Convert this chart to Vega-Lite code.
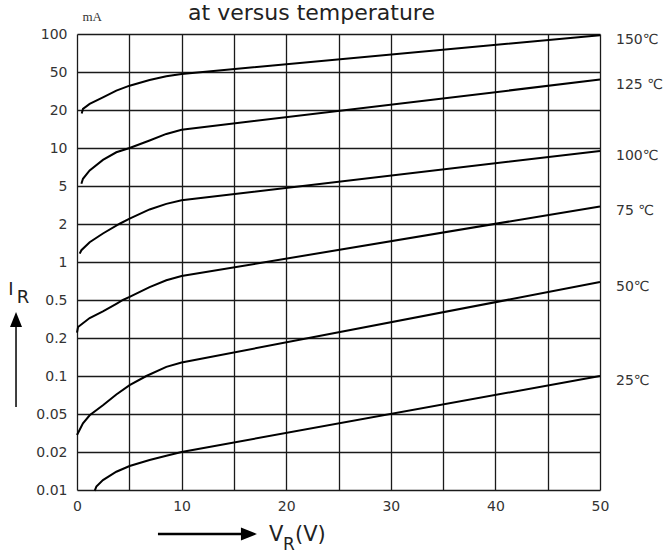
{
  "$schema": "https://vega.github.io/schema/vega-lite/v6.json",
  "autosize": {"type": "none"},
  "padding": {"left": 77, "top": 34, "right": 66, "bottom": 64},
  "width": 523,
  "height": 456,
  "background": "white",
  "title": {"text": "at versus temperature", "font": "DejaVu Sans", "fontSize": 22, "fontWeight": "normal", "color": "#222", "dx": -27, "offset": -15},
  "config": {
    "view": {"stroke": null},
    "axis": {"gridColor": "#1a1a1a", "gridWidth": 1.3, "gridOpacity": 1, "ticks": false, "domain": false, "labelFont": "DejaVu Sans", "labelFontSize": 14, "labelColor": "#333", "labelFlush": false, "labelOverlap": false},
    "text": {"font": "DejaVu Sans", "color": "#222"}
  },
  "datasets": {
    "curves": [
      {"temp": "150℃", "v": 0.45, "i": 19.1},
      {"temp": "150℃", "v": 0.57, "i": 20.9},
      {"temp": "150℃", "v": 1.21, "i": 24.8},
      {"temp": "150℃", "v": 2.48, "i": 30.0},
      {"temp": "150℃", "v": 3.76, "i": 35.3},
      {"temp": "150℃", "v": 5.03, "i": 39.2},
      {"temp": "150℃", "v": 6.94, "i": 43.7},
      {"temp": "150℃", "v": 8.54, "i": 46.6},
      {"temp": "150℃", "v": 10, "i": 48.5},
      {"temp": "150℃", "v": 50, "i": 98.5},
      {"temp": "125 ℃", "v": 0.42, "i": 5.29},
      {"temp": "125 ℃", "v": 0.57, "i": 5.95},
      {"temp": "125 ℃", "v": 1.21, "i": 7.04},
      {"temp": "125 ℃", "v": 2.48, "i": 8.44},
      {"temp": "125 ℃", "v": 3.76, "i": 9.44},
      {"temp": "125 ℃", "v": 5.03, "i": 10.0},
      {"temp": "125 ℃", "v": 6.94, "i": 11.96},
      {"temp": "125 ℃", "v": 8.54, "i": 13.7},
      {"temp": "125 ℃", "v": 10, "i": 14.8},
      {"temp": "125 ℃", "v": 50, "i": 44},
      {"temp": "100℃", "v": 0.26, "i": 1.22},
      {"temp": "100℃", "v": 0.42, "i": 1.31},
      {"temp": "100℃", "v": 1.21, "i": 1.52},
      {"temp": "100℃", "v": 2.48, "i": 1.75},
      {"temp": "100℃", "v": 4.08, "i": 2.02},
      {"temp": "100℃", "v": 5.03, "i": 2.42},
      {"temp": "100℃", "v": 6.94, "i": 3.15},
      {"temp": "100℃", "v": 8.54, "i": 3.59},
      {"temp": "100℃", "v": 10, "i": 3.88},
      {"temp": "100℃", "v": 50, "i": 9.6},
      {"temp": "75 ℃", "v": 0, "i": 0.242},
      {"temp": "75 ℃", "v": 0.1, "i": 0.287},
      {"temp": "75 ℃", "v": 1.21, "i": 0.358},
      {"temp": "75 ℃", "v": 2.48, "i": 0.41},
      {"temp": "75 ℃", "v": 3.76, "i": 0.47},
      {"temp": "75 ℃", "v": 4.39, "i": 0.5},
      {"temp": "75 ℃", "v": 5.03, "i": 0.54},
      {"temp": "75 ℃", "v": 6.94, "i": 0.67},
      {"temp": "75 ℃", "v": 8.54, "i": 0.76},
      {"temp": "75 ℃", "v": 10, "i": 0.815},
      {"temp": "75 ℃", "v": 50, "i": 3.39},
      {"temp": "50℃", "v": 0, "i": 0.0334},
      {"temp": "50℃", "v": 0.57, "i": 0.0426},
      {"temp": "50℃", "v": 1.21, "i": 0.049},
      {"temp": "50℃", "v": 2.48, "i": 0.0615},
      {"temp": "50℃", "v": 3.76, "i": 0.0757},
      {"temp": "50℃", "v": 5.03, "i": 0.088},
      {"temp": "50℃", "v": 6.63, "i": 0.1},
      {"temp": "50℃", "v": 8.54, "i": 0.124},
      {"temp": "50℃", "v": 10, "i": 0.1355},
      {"temp": "50℃", "v": 50, "i": 0.736},
      {"temp": "25℃", "v": 1.69, "i": 0.0098},
      {"temp": "25℃", "v": 1.85, "i": 0.0109},
      {"temp": "25℃", "v": 2.48, "i": 0.0126},
      {"temp": "25℃", "v": 3.76, "i": 0.0148},
      {"temp": "25℃", "v": 5.03, "i": 0.0163},
      {"temp": "25℃", "v": 6.94, "i": 0.0179},
      {"temp": "25℃", "v": 8.54, "i": 0.019},
      {"temp": "25℃", "v": 10, "i": 0.02},
      {"temp": "25℃", "v": 50, "i": 0.1}
    ]
  },
  "layer": [
    {
      "data": {"name": "curves"},
      "mark": {"type": "line", "color": "black", "strokeWidth": 2, "interpolate": "linear"},
      "encoding": {
        "x": {"field": "v", "type": "quantitative",
          "scale": {"domain": [0, 50], "nice": false, "zero": false},
          "axis": {"values": [0, 5, 10, 15, 20, 25, 30, 35, 40, 45, 50], "tickCount": 20, "labelExpr": "datum.value % 10 == 0 ? datum.label : ''", "labelPadding": 9, "title": null}},
        "y": {"field": "i", "type": "quantitative",
          "scale": {"type": "linear", "domain": [0.01, 0.02, 0.05, 0.1, 0.2, 0.5, 1, 2, 5, 10, 20, 50, 100], "range": [456, 418, 380, 342, 304, 266, 228, 190, 152, 114, 76, 38, 0], "nice": false, "zero": false},
          "axis": {"values": [0.01, 0.02, 0.05, 0.1, 0.2, 0.5, 1, 2, 5, 10, 20, 50, 100], "tickCount": 20, "labelExpr": "'' + datum.value", "labelPadding": 10,
            "title": "mA", "titleAngle": 0, "titleX": 5, "titleY": -14, "titleAlign": "left", "titleBaseline": "alphabetic", "titleFont": "Liberation Serif", "titleFontSize": 13, "titleFontWeight": "normal", "titleColor": "#333"}},
        "detail": {"field": "temp"}
      }
    },
    {
      "data": {"name": "curves"},
      "transform": [{"filter": "datum.v == 50"}],
      "mark": {"type": "text", "align": "left", "baseline": "middle", "dx": 16, "dy": 5, "fontSize": 14, "color": "#333", "font": "DejaVu Sans"},
      "encoding": {
        "x": {"field": "v", "type": "quantitative"},
        "y": {"field": "i", "type": "quantitative"},
        "text": {"field": "temp"}
      }
    },
    {
      "data": {"values": [{}]},
      "mark": {"type": "text", "text": "I", "align": "center", "baseline": "alphabetic", "fontSize": 18},
      "encoding": {"x": {"datum": -6.31, "type": "quantitative"}, "y": {"datum": 0.565, "type": "quantitative"}}
    },
    {
      "data": {"values": [{}]},
      "mark": {"type": "text", "text": "R", "align": "left", "baseline": "alphabetic", "fontSize": 18},
      "encoding": {"x": {"datum": -5.76, "type": "quantitative"}, "y": {"datum": 0.474, "type": "quantitative"}}
    },
    {
      "data": {"values": [{}]},
      "mark": {"type": "rule", "color": "black", "strokeWidth": 1.5},
      "encoding": {"x": {"datum": -5.83, "type": "quantitative"}, "y": {"datum": 0.2867, "type": "quantitative"}, "y2": {"datum": 0.0592}}
    },
    {
      "data": {"values": [{}]},
      "mark": {"type": "point", "shape": "M0,-1L0.8,1L-0.8,1Z", "filled": true, "color": "black", "opacity": 1, "size": 225},
      "encoding": {"x": {"datum": -5.83, "type": "quantitative"}, "y": {"datum": 0.346, "type": "quantitative"}}
    },
    {
      "data": {"values": [{}]},
      "mark": {"type": "rule", "color": "black", "strokeWidth": 2.5},
      "encoding": {"x": {"datum": 7.74, "type": "quantitative"}, "x2": {"datum": 15.87}, "y": {"datum": -0.00158, "type": "quantitative"}}
    },
    {
      "data": {"values": [{}]},
      "mark": {"type": "point", "shape": "M-1,-0.8L1,0L-1,0.8Z", "filled": true, "color": "black", "opacity": 1, "size": 256},
      "encoding": {"x": {"datum": 16.44, "type": "quantitative"}, "y": {"datum": -0.00158, "type": "quantitative"}}
    },
    {
      "data": {"values": [{}]},
      "mark": {"type": "text", "text": "V", "align": "left", "baseline": "alphabetic", "fontSize": 21},
      "encoding": {"x": {"datum": 18.36, "type": "quantitative"}, "y": {"datum": -0.00342, "type": "quantitative"}}
    },
    {
      "data": {"values": [{}]},
      "mark": {"type": "text", "text": "R", "align": "left", "baseline": "alphabetic", "fontSize": 17},
      "encoding": {"x": {"datum": 19.69, "type": "quantitative"}, "y": {"datum": -0.0058, "type": "quantitative"}}
    },
    {
      "data": {"values": [{}]},
      "mark": {"type": "text", "text": "(V)", "align": "left", "baseline": "alphabetic", "fontSize": 21},
      "encoding": {"x": {"datum": 20.84, "type": "quantitative"}, "y": {"datum": -0.00342, "type": "quantitative"}}
    }
  ]
}
